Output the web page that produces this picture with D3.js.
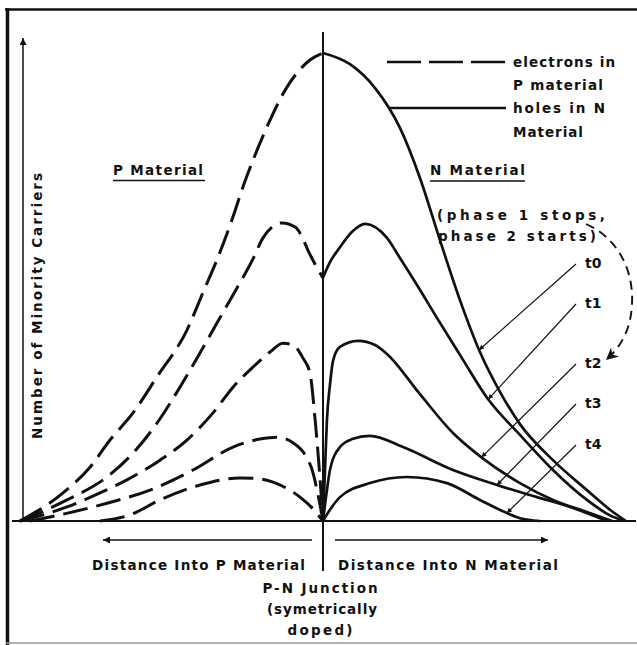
<!DOCTYPE html>
<html><head><meta charset="utf-8">
<script src="https://cdn.jsdelivr.net/npm/d3@7"></script>
<style>
html,body{margin:0;padding:0;background:#fff;}
text{font-family:"DejaVu Sans","Lato",sans-serif;font-weight:700;fill:#111;}
</style></head>
<body><svg id="c" width="637" height="645"></svg>
<script>
// ---- data: distance from junction (-100 = deep P, +100 = deep N), carriers 0..100 ----
const seriesNames = ["t0","t1","t2","t3","t4"];
// electrons in P material (dashed)
const pT0 = [[-100,0],[-85.8,6],[-76.9,11.5],[-70.3,17.3],[-62.7,23.1],[-54.8,30.8],[-44.9,40.8],[-39.5,49],[-35,55.8],[-29.7,65],[-26.4,71.4],[-23.1,77.1],[-18.5,84.2],[-11.9,92.7],[-4.3,98.5],[0,100]];
const pT1 = [[-100,0],[-84.5,4.5],[-71.3,9.4],[-62.7,14.5],[-54.8,20.9],[-47.2,28.6],[-40.6,35.9],[-35,42.3],[-29.7,48.3],[-23.1,56],[-19.8,60.5],[-13.5,63.7],[-9.2,62.8],[-6.9,60.7],[-5,57.9],[-2.3,54.5],[0,51.9]];
const pT2 = [[-100,0],[-84.5,3],[-73.6,6],[-64.7,8.8],[-53.8,13],[-44.9,17.3],[-36.3,23.1],[-29.7,28.6],[-23.1,32.9],[-17.5,36.1],[-13.2,38],[-9.9,37.6],[-6.6,34.8],[-4.3,31.6],[-2.6,21.6],[-1.2,10.9],[0,0]];
const pT3 = [[-96.7,0],[-90.1,0.85],[-71.3,3.8],[-57.1,6.6],[-42.9,10.9],[-29.7,15.8],[-20.8,17.5],[-15.2,17.9],[-9.9,16.7],[-5.9,14.1],[-3.3,10.3],[-1.65,5.6],[0,0]];
const pT4 = [[-73.6,0],[-63.7,1.3],[-53.8,4.5],[-40.6,7.7],[-27.4,9.2],[-20.8,9],[-16.5,8.3],[-7.6,5.1],[-3.6,2.8],[0,0]];
// holes in N material (solid)
const nT0 = [[0,100],[8.9,97.6],[17.2,92.5],[25.4,84],[32,73.3],[38.6,60],[45.2,47.2],[51.8,36.1],[58.4,27.6],[65,20.7],[75.9,13],[87.1,6.6],[94.7,2.4],[100,0]];
const nT1 = [[0,52],[2.3,55.3],[5.6,58.5],[9.6,61.8],[13.9,63.5],[21.1,60.5],[25.4,56.2],[32,49.4],[37.6,43.4],[45.2,35.5],[54.5,26],[65,18.4],[75.9,10.9],[87.1,4.5],[94.7,1.2],[99.3,0]];
const nT2 = [[0,0],[0.66,10.9],[1.3,21.6],[2.3,29.1],[3.3,34.2],[5.6,37.2],[11.6,38.5],[17.2,37.6],[21.1,35.7],[32,27.1],[42.9,18.8],[52.5,13.5],[65,8.1],[75.9,4.5],[87.1,1.9],[95.4,0]];
const nT3 = [[0,0],[1.3,6.6],[2.3,10.9],[5.6,15.8],[9.6,17.5],[15.5,18.2],[26.4,15.8],[42.9,10.9],[57.4,7.7],[70.6,5.1],[82.5,2.8],[93.7,0]];
const nT4 = [[0,0],[2.3,2.4],[5.6,5.1],[15.5,8.1],[27.7,9.4],[40.9,8.1],[51.8,4.5],[60.7,1.7],[65,0.6],[71.6,0]];
// x position (data units) where each time-label arrow touches its N curve
const arrowTipX = [51.5, 54.5, 52.3, 57.4, 60.7];
const legendLabels = [["electrons in","P material"],["holes in N","Material"]];

const pSeries = [pT0,pT1,pT2,pT3,pT4];
const nSeries = [nT0,nT1,nT2,nT3,nT4];

const svg = d3.select("#c");
const x = d3.scaleLinear().domain([-100,100]).range([20,626]);
const y = d3.scaleLinear().domain([0,100]).range([521,53]);
const ink = "#111";

const defs = svg.append("defs");
function marker(id,w,h,d){
  defs.append("marker").attr("id",id).attr("viewBox","0 0 10 10").attr("refX",10).attr("refY",5)
    .attr("markerWidth",w).attr("markerHeight",h).attr("markerUnits","userSpaceOnUse").attr("orient","auto")
    .append("path").attr("d",d).attr("fill",ink);
}
marker("ah",10,7,"M0,0 L10,5 L0,10 Z");
marker("ahs",8,5,"M0,0 L10,5 L0,10 Z");
marker("ahb",15,12,"M0,0 L10,5 L0,10 L3,5 Z");

// frame
svg.append("line").attr("x1",5).attr("x2",637).attr("y1",9.5).attr("y2",9.5).attr("stroke",ink).attr("stroke-width",2.5);
svg.append("line").attr("x1",7.5).attr("x2",7.5).attr("y1",8).attr("y2",645).attr("stroke",ink).attr("stroke-width",3.5);
svg.append("line").attr("x1",6).attr("x2",637).attr("y1",643).attr("y2",643).attr("stroke","#999").attr("stroke-width",1.5);

// axes
const x0 = x(0);
svg.append("line").attr("x1",12).attr("x2",636).attr("y1",y(0)).attr("y2",y(0)).attr("stroke",ink).attr("stroke-width",2);
svg.append("line").attr("x1",23).attr("x2",23).attr("y1",y(0)).attr("y2",38).attr("stroke",ink).attr("stroke-width",1.5).attr("marker-end","url(#ah)");
svg.append("line").attr("x1",x0).attr("x2",x0).attr("y1",32).attr("y2",571).attr("stroke",ink).attr("stroke-width",2);
svg.append("line").attr("x1",x0-11).attr("x2",103).attr("y1",540).attr("y2",540).attr("stroke",ink).attr("stroke-width",1.6).attr("marker-end","url(#ah)");
svg.append("line").attr("x1",x0+12).attr("x2",548).attr("y1",540).attr("y2",540).attr("stroke",ink).attr("stroke-width",1.6).attr("marker-end","url(#ah)");

// curves
const line = d3.line().x(d=>x(d[0])).y(d=>y(d[1])).curve(d3.curveMonotoneX);
svg.append("g").selectAll("path").data(pSeries).join("path")
  .attr("d",line).attr("fill","none").attr("stroke",ink).attr("stroke-width",3)
  .attr("stroke-dasharray","25,9");
const nPaths = svg.append("g").selectAll("path").data(nSeries).join("path")
  .attr("d",line).attr("fill","none").attr("stroke",ink).attr("stroke-width",2.7);

function yAt(pathEl, px){
  const L = pathEl.getTotalLength();
  let lo=0, hi=L;
  for(let i=0;i<40;i++){const m=(lo+hi)/2; if(pathEl.getPointAtLength(m).x<px) lo=m; else hi=m;}
  return pathEl.getPointAtLength(lo).y;
}

// time labels with arrows
const labelY = [268,308,368,408,449];
const labelG = svg.append("g");
nPaths.each(function(d,i){
  const tx = x(arrowTipX[i]);
  const ty = yAt(this, tx);
  const sx = 576, sy = labelY[i]-4;
  labelG.append("line").attr("x1",sx).attr("y1",sy).attr("x2",tx).attr("y2",ty)
    .attr("stroke",ink).attr("stroke-width",1.2).attr("marker-end","url(#ahs)");
  labelG.append("text").attr("x",585).attr("y",labelY[i]).attr("font-size",14).text(seriesNames[i]);
});

// dashed curved arrow
svg.append("path").attr("d","M586,224 C614,236 634,266 632,304 C631,328 622,346 606,360")
  .attr("fill","none").attr("stroke",ink).attr("stroke-width",1.9).attr("stroke-dasharray","9,6")
  .attr("marker-end","url(#ahb)");

// legend
svg.append("line").attr("x1",387).attr("x2",508).attr("y1",62).attr("y2",62).attr("stroke",ink).attr("stroke-width",2.6).attr("stroke-dasharray","34,8");
svg.append("line").attr("x1",390).attr("x2",506).attr("y1",108).attr("y2",108).attr("stroke",ink).attr("stroke-width",2.4);

function label(t, xx, yy, len, anchor){
  const el = svg.append("text").attr("x",xx).attr("y",yy).attr("font-size",13.5)
    .attr("text-anchor",anchor||"start").text(t);
  if(len) el.attr("textLength",len).attr("lengthAdjust","spacing");
  return el;
}
label(legendLabels[0][0],513,67,102);
label(legendLabels[0][1],513,90,90);
label(legendLabels[1][0],513,113,92);
label(legendLabels[1][1],513,137,70);
label("N Material",430,175,95);
label("P Material",113,175,90);
svg.append("line").attr("x1",113).attr("x2",205).attr("y1",180.5).attr("y2",180.5).attr("stroke",ink).attr("stroke-width",1.7);
svg.append("line").attr("x1",430).attr("x2",525).attr("y1",181).attr("y2",181).attr("stroke",ink).attr("stroke-width",1.7);
label("(phase 1 stops,",437,220,168);
label("phase 2 starts)",438,241,158);
label("Distance Into P Material",92,570,213);
label("Distance Into N Material",338,570,220);
label("P-N Junction",320,593,115,"middle");
label("(symetrically",322,614,110,"middle");
label("doped)",320,635,65,"middle");
svg.append("text").attr("transform","translate(42,306) rotate(-90)").attr("text-anchor","middle")
  .attr("font-size",13.5).attr("textLength",266).attr("lengthAdjust","spacing").text("Number of Minority Carriers");
</script></body></html>
